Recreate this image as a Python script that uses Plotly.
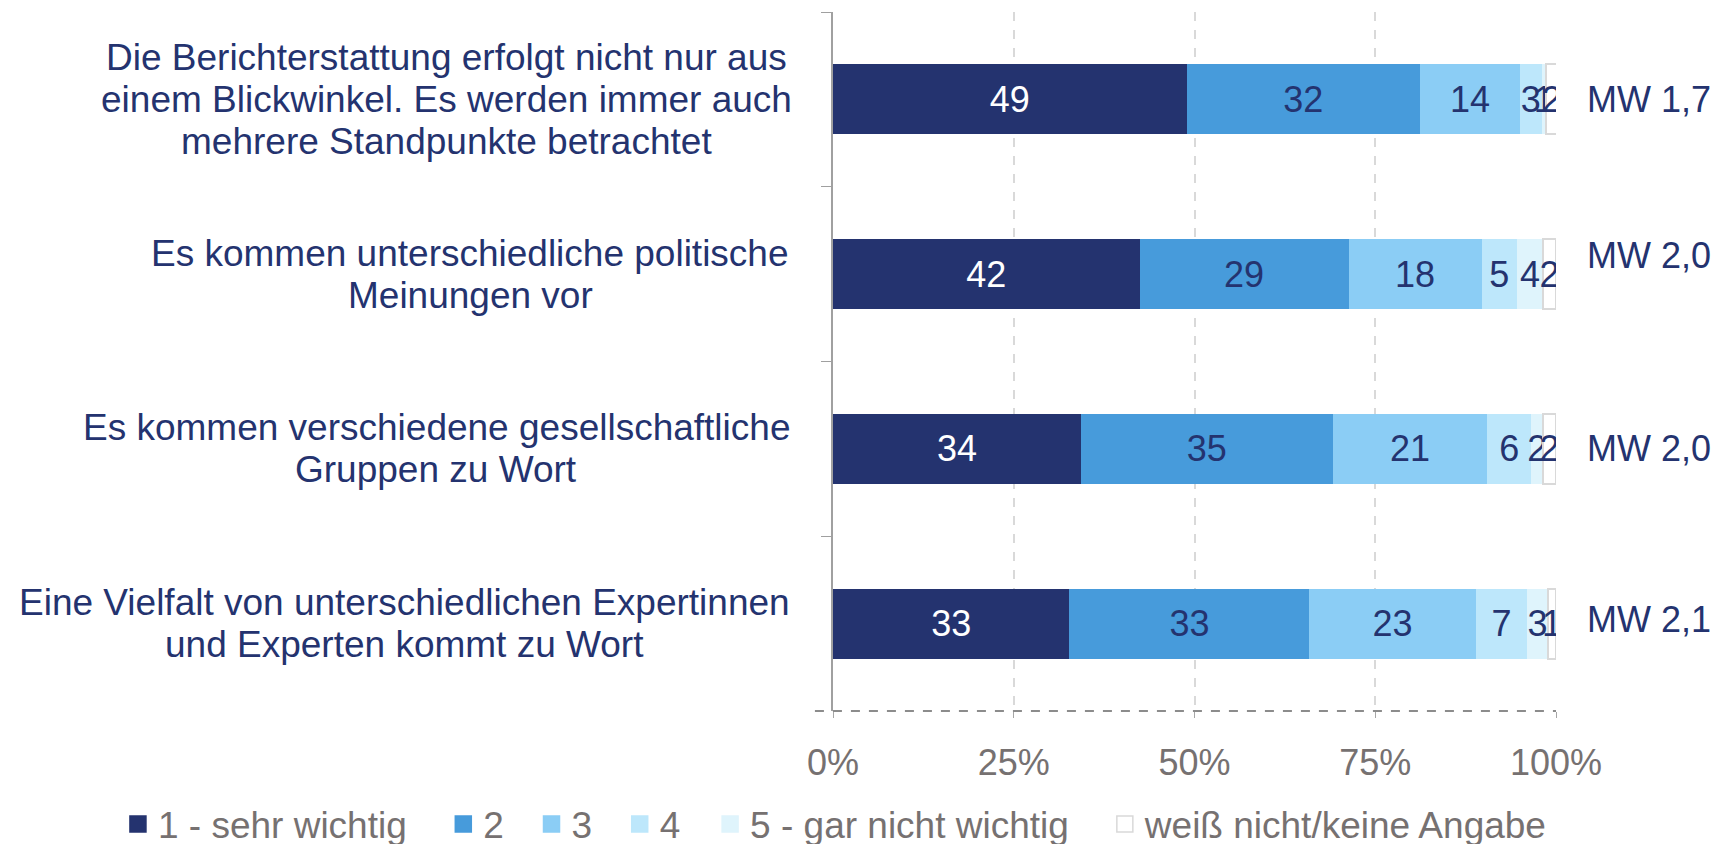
import plotly.graph_objects as go

# statements (top to bottom)
items = [
    "Die Berichterstattung erfolgt nicht nur aus<br>einem Blickwinkel. Es werden immer auch<br>mehrere Standpunkte betrachtet",
    "Es kommen unterschiedliche politische<br>Meinungen vor",
    "Es kommen verschiedene gesellschaftliche<br>Gruppen zu Wort",
    "Eine Vielfalt von unterschiedlichen Expertinnen<br>und Experten kommt zu Wort",
]
series = ["1 - sehr wichtig", "2", "3", "4", "5 - gar nicht wichtig", "weiß nicht/keine Angabe"]

# shares in % (bar widths)
s1 = [48.9, 42.4, 34.3, 32.7]
s2 = [32.3, 28.9, 34.8, 33.2]
s3 = [13.8, 18.4, 21.4, 23.0]
s4 = [3.0, 4.9, 6.1, 7.1]
s5 = [0.6, 3.6, 1.6, 2.9]
s6 = [1.6, 1.8, 1.8, 1.1]

# printed labels
l1 = ["49", "42", "34", "33"]
l2 = ["32", "29", "35", "33"]
l3 = ["14", "18", "21", "23"]
l4 = ["3", "5", "6", "7"]
l5 = ["1", "4", "2", "3"]
l6 = ["2", "2", "2", "1"]

mw = ["MW 1,7", "MW 2,0", "MW 2,0", "MW 2,1"]

# layout helpers (paper x of label centres, pixel shifts of MW texts, legend slots)
label_x = [-0.535, -0.502, -0.549, -0.593]
mw_shift = [0, 19, 0, 4]
legend_x = [-0.989, -0.539, -0.417, -0.295, -0.170, 0.376]
LINE = 42

colors = ["#24336F", "#479BDB", "#8BCDF5", "#BDE7FB", "#DFF4FC", "#FFFFFF"]
txtcol = ["white", "#24336F", "#24336F", "#24336F", "#24336F", "#24336F"]

NAVY = "#24336F"
GREY = "#767171"
SANS = "Liberation Sans, Arial, sans-serif"

fig = go.Figure()
for i, (name, vals, labs, c, tc) in enumerate(zip(series, [s1, s2, s3, s4, s5, s6],
                                                  [l1, l2, l3, l4, l5, l6], colors, txtcol)):
    edge = "#D9D9D9" if c == "#FFFFFF" else c
    fig.add_bar(
        y=items, x=vals, name=name, orientation="h", showlegend=False,
        marker=dict(color=c, line=dict(color=edge, width=2 if c == "#FFFFFF" else 0)),
        text=labs, textposition="inside", insidetextanchor="middle",
        textfont=dict(color=tc, size=36, family=SANS),
        hoverinfo="skip",
    )
    # legend entry (one legend box per entry so the spacing can follow the original)
    lg = "legend" if i == 0 else f"legend{i + 1}"
    fig.add_scatter(x=[None], y=[None], mode="markers", name=name, legend=lg,
                    marker=dict(symbol="square", size=16, color=c,
                                line=dict(color=edge, width=1.5)))
    fig.update_layout({lg: dict(orientation="h", x=legend_x[i], xanchor="left",
                                y=-0.118, yanchor="top", itemwidth=30,
                                bgcolor="rgba(0,0,0,0)",
                                font=dict(size=37, color=GREY, family=SANS))})

# category labels, centred lines
for it, lx in zip(items, label_x):
    lines = it.split("<br>")
    n = len(lines)
    for k, ln in enumerate(lines):
        fig.add_annotation(x=lx, xref="paper", y=it, yref="y", text=ln,
                           showarrow=False, xanchor="center", yanchor="middle",
                           yshift=((n - 1) / 2 - k) * LINE,
                           font=dict(size=37, color=NAVY, family=SANS))

for it, m, sh in zip(items, mw, mw_shift):
    fig.add_annotation(x=1.04, xref="paper", y=it, yref="y", text=m,
                       showarrow=False, xanchor="left", yshift=sh,
                       font=dict(size=36, color=NAVY, family=SANS))

# dashed bottom axis line
fig.add_shape(type="line", xref="paper", yref="paper", x0=-0.025, x1=1, y0=0, y1=0,
              line=dict(color="#8C8C8C", width=2, dash="dash"))

fig.update_layout(
    barmode="stack", bargap=0.6,
    width=1723, height=844,
    margin=dict(l=825, r=175, t=4, b=141, autoexpand=False),
    plot_bgcolor="white", paper_bgcolor="white",
    uniformtext=dict(minsize=36, mode="show"),
    showlegend=True,
    xaxis=dict(range=[0, 100], tickvals=[0, 25, 50, 75, 100],
               ticktext=["0%", "25%", "50%", "75%", "100%"],
               showgrid=True, gridcolor="#D9D9D9", griddash="dash", gridwidth=2,
               zeroline=False, showline=False, ticks="outside", ticklen=6,
               tickcolor="#A6A6A6", ticklabelstandoff=14,
               tickfont=dict(size=36, color=GREY, family=SANS)),
    yaxis=dict(autorange="reversed", showline=True, linecolor="#A0A0A0", linewidth=2,
               ticks="outside", tickson="boundaries", ticklen=10, tickcolor="#A0A0A0",
               showgrid=False, showticklabels=False),
)

fig.write_html("out.html")
